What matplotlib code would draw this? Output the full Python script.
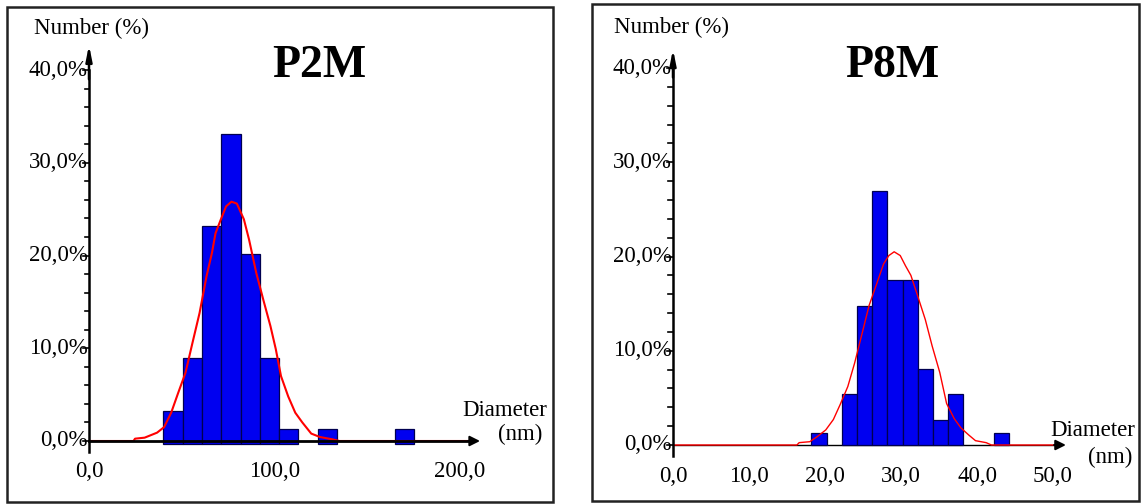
import matplotlib
matplotlib.use("Agg")
import matplotlib.pyplot as plt
from matplotlib.patches import Rectangle

plt.rcParams['font.family'] = ['Liberation Serif', 'DejaVu Serif']

# ---------------- data ----------------
# P2M histogram (bin left edges in nm, width, number %)
p2m_edges = [40.1, 50.5, 60.9, 71.3, 81.7, 92.1, 102.5, 123.3, 165.0]
p2m_width = 10.4
p2m_values = [3.2, 9.0, 23.2, 33.1, 20.2, 9.0, 1.25, 1.25, 1.25]
# P2M fitted curve
p2m_curve_x = [0, 24.0, 24.8, 30, 36.7, 40.5, 44.3, 48.1, 52.0, 55.8, 59.6, 63.4, 66.3,
               68.2, 71.1, 73.9, 76.8, 79.7, 83.5, 86.3, 90.2, 94.0, 97.8, 100.7,
               103.5, 107.4, 111.2, 115.0, 119.8, 124.5, 131.2, 135.0, 205.0]
p2m_curve_y = [0, 0, 0.25, 0.36, 0.9, 1.5, 3.05, 5.2, 7.35, 10.6, 13.8, 17.8, 20.3,
               22.4, 23.9, 25.3, 25.8, 25.6, 23.9, 21.7, 18.1, 15.2, 12.4, 9.9,
               7.0, 4.8, 3.05, 2.0, 0.8, 0.43, 0.18, 0, 0]

# P8M histogram
p8m_edges = [18.2, 22.2, 24.2, 26.2, 28.2, 30.2, 32.2, 34.2, 36.2, 42.2]
p8m_width = 2.0
p8m_values = [1.3, 5.4, 14.7, 26.9, 17.5, 17.5, 8.1, 2.6, 5.4, 1.3]
# P8M fitted curve
p8m_curve_x = [0, 16.3, 16.6, 18.0, 19.0, 20.1, 21.1, 22.0, 23.0, 23.9, 24.9, 25.8,
               26.8, 27.7, 28.4, 29.1, 29.9, 30.6, 31.3, 32.2, 33.2, 34.1, 35.1,
               36.0, 37.0, 37.9, 38.9, 39.8, 41.2, 41.9, 51.0]
p8m_curve_y = [0, 0, 0.25, 0.35, 0.9, 1.6, 2.7, 4.3, 6.2, 8.7, 11.9, 14.8,
               17.1, 19.2, 20.1, 20.5, 20.1, 19.0, 18.0, 15.8, 13.3, 10.5, 7.7,
               4.4, 2.8, 1.8, 1.07, 0.46, 0.25, 0, 0]

y_ticks = [0, 10, 20, 30, 40]
y_ticklabels = ["0,0%", "10,0%", "20,0%", "30,0%", "40,0%"]
p2m_xticks = [0, 100, 200]
p2m_xticklabels = ["0,0", "100,0", "200,0"]
p8m_xticks = [0, 10, 20, 30, 40, 50]
p8m_xticklabels = ["0,0", "10,0", "20,0", "30,0", "40,0", "50,0"]

W, H = 1143, 504
fig = plt.figure(figsize=(W / 100, H / 100), dpi=100)


def frame(x0, y0, x1, y1):
    fig.patches.append(Rectangle((x0 / W, 1 - y1 / H), (x1 - x0) / W, (y1 - y0) / H,
                                 transform=fig.transFigure, fill=False,
                                 edgecolor='#222222', linewidth=1.8))


frame(7, 7, 553, 502)
frame(592, 4, 1139, 501)

FS = 16.5


def panel(px0, px1, py0, py40, xmax, edges, width, values, cx, cy, xticks, xtl,
          title, title_x, xtip, ytip, ylow, number_xy, diam_xy, nm_xy,
          bar_bottom, axis_lw, curve_lw, axis_under):
    ax = fig.add_axes([px0 / W, 1 - py0 / H, (px1 - px0) / W, (py0 - py40) / H])
    ax.set_xlim(0, xmax)
    ax.set_ylim(0, 40)
    ax.axis('off')
    # bars
    ax.bar(edges, [v - bar_bottom for v in values], width=width, bottom=bar_bottom,
           align='edge', color='#0000f0', edgecolor='#000050', linewidth=0.9,
           clip_on=False, zorder=2)
    # axis lines
    zx = 4 if not axis_under else 1
    ax.plot([0, 0], [ylow, 40], color='black', lw=1.8, clip_on=False, zorder=4)
    ax.annotate('', xy=(0, ytip), xytext=(0, 39), xycoords='data',
                arrowprops=dict(arrowstyle='-|>,head_length=0.9,head_width=0.18',
                                color='black', lw=1.8, shrinkA=0, shrinkB=0),
                annotation_clip=False, zorder=4)
    ax.plot([0, xtip * 0.985], [0, 0], color='black', lw=axis_lw, clip_on=False, zorder=zx)
    ax.annotate('', xy=(xtip, 0), xytext=(xtip * 0.97, 0), xycoords='data',
                arrowprops=dict(arrowstyle='-|>,head_length=0.6,head_width=0.3',
                                color='black', lw=1.5, shrinkA=0, shrinkB=0),
                annotation_clip=False, zorder=4)
    # curve
    ax.plot(cx, cy, color='#ff0000', lw=curve_lw, clip_on=False, zorder=3)
    # minor ticks on y axis every 2%
    for t in range(0, 41, 2):
        ln = 0.012 * xmax if t % 10 else 0.016 * xmax
        ax.plot([-ln, 0], [t, t], color='black', lw=1.2, clip_on=False, zorder=4)
    # tick labels
    for t, lab in zip(y_ticks, y_ticklabels):
        ax.text(-0.003 * xmax, t, lab, ha='right', va='center', fontsize=FS,
                clip_on=False)
    for t, lab in zip(xticks, xtl):
        ax.text(t, -3.3, lab, ha='center', va='center', fontsize=FS, clip_on=False)
    # labels (pixel positions)
    fig.text(number_xy[0] / W, 1 - number_xy[1] / H, "Number (%)", ha='center',
             va='center', fontsize=FS)
    fig.text(diam_xy[0] / W, 1 - diam_xy[1] / H, "Diameter", ha='left',
             va='center', fontsize=FS)
    fig.text(nm_xy[0] / W, 1 - nm_xy[1] / H, "(nm)", ha='left',
             va='center', fontsize=FS)
    fig.text(title_x / W, 1 - 66 / H, title, ha='center', va='center',
             fontsize=33, fontweight='bold')
    return ax


panel(89, 460, 441, 70, 200, p2m_edges, p2m_width, p2m_values,
      p2m_curve_x, p2m_curve_y, p2m_xticks, p2m_xticklabels,
      "P2M", 319, 210.8, 42.7, -1.2, (91, 28), (462, 411), (498, 434),
      -0.3, 2.0, 1.5, False)

panel(673, 1053, 445, 68, 50, p8m_edges, p8m_width, p8m_values,
      p8m_curve_x, p8m_curve_y, p8m_xticks, p8m_xticklabels,
      "P8M", 892, 51.7, 42.0, -1.2, (672, 27), (1050, 430), (1088, 457),
      0.0, 1.0, 1.0, True)

fig.savefig("out.png", dpi=100)
